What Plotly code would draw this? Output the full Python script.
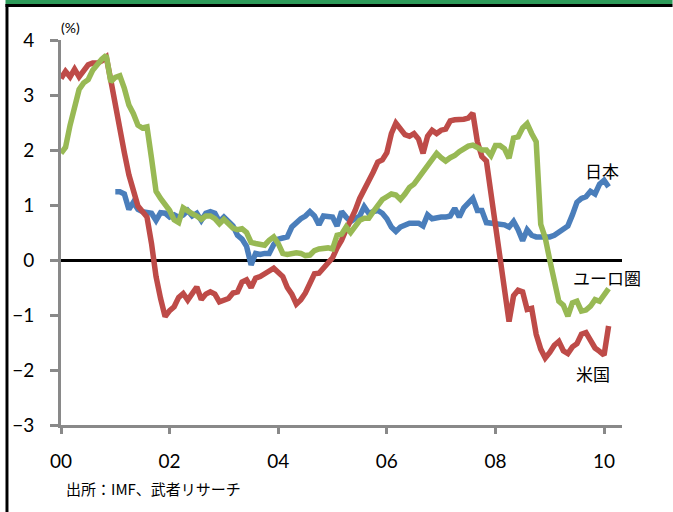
import plotly.graph_objects as go

# Monthly values, Jan 2000 onward (%)
us = [3.30, 3.43, 3.33, 3.47, 3.33, 3.45, 3.55, 3.58, 3.58, 3.62,
      3.69, 3.27, 2.80, 2.30, 1.95, 1.55, 1.28, 0.98, 0.88, 0.78,
      0.30, -0.30, -0.70, -1.03, -0.92, -0.85, -0.68, -0.61, -0.73, -0.60,
      -0.49, -0.72, -0.62, -0.58, -0.62, -0.76, -0.74, -0.70, -0.60, -0.58,
      -0.40, -0.36, -0.50, -0.33, -0.30, -0.26, -0.20, -0.15, -0.22, -0.30,
      -0.50, -0.62, -0.80, -0.72, -0.60, -0.42, -0.25, -0.24, -0.15, -0.07,
      0.04, 0.22, 0.36, 0.55, 0.72, 0.90, 1.12, 1.27, 1.45, 1.60,
      1.78, 1.82, 1.95, 2.30, 2.49, 2.38, 2.28, 2.25, 2.30, 2.20,
      1.94, 2.25, 2.36, 2.30, 2.36, 2.38, 2.53, 2.55, 2.55, 2.56,
      2.58, 2.67, 2.15, 1.88, 1.80, 1.20, 0.70, 0.10, -0.55, -1.12,
      -0.65, -0.55, -0.58, -0.90, -0.88, -1.35, -1.62, -1.78, -1.68, -1.55,
      -1.48, -1.65, -1.70, -1.58, -1.52, -1.35, -1.32, -1.45, -1.60, -1.66,
      -1.73, -1.20]

euro = [1.94, 2.05, 2.45, 2.75, 3.10, 3.22, 3.28, 3.45, 3.56, 3.65,
        3.72, 3.24, 3.32, 3.35, 3.12, 2.82, 2.66, 2.45, 2.40, 2.42,
        1.85, 1.25, 1.12, 1.00, 0.90, 0.73, 0.68, 0.95, 0.88, 0.84,
        0.80, 0.74, 0.80, 0.80, 0.75, 0.66, 0.74, 0.65, 0.58, 0.55,
        0.57, 0.50, 0.32, 0.30, 0.29, 0.27, 0.36, 0.42, 0.30, 0.12,
        0.10, 0.12, 0.13, 0.12, 0.08, 0.09, 0.17, 0.20, 0.22, 0.22,
        0.20, 0.45, 0.47, 0.60, 0.50, 0.60, 0.72, 0.76, 0.76, 0.88,
        1.00, 1.10, 1.15, 1.20, 1.18, 1.10, 1.20, 1.32, 1.38, 1.50,
        1.62, 1.72, 1.82, 1.94, 1.86, 1.80, 1.86, 1.90, 1.97, 2.02,
        2.07, 2.09, 2.05, 2.00, 2.00, 1.90, 2.08, 2.08, 2.02, 1.85,
        2.22, 2.24, 2.40, 2.48, 2.30, 2.15, 0.65, 0.40, 0.00, -0.42,
        -0.75, -0.82, -1.02, -0.78, -0.75, -0.93, -0.91, -0.84, -0.72, -0.75,
        -0.62, -0.52]

# Japan starts Jan 2001 (month index 12)
japan_start = 12
japan = [1.24, 1.24, 1.20, 0.92, 1.05, 0.92, 0.88, 0.87, 0.85, 0.72,
         0.86, 0.85, 0.78, 0.82, 0.78, 0.82, 0.90, 0.80, 0.85, 0.72,
         0.85, 0.88, 0.85, 0.70, 0.78, 0.70, 0.62, 0.45, 0.38, 0.25,
         -0.09, 0.12, 0.10, 0.12, 0.12, 0.28, 0.38, 0.40, 0.42, 0.60,
         0.68, 0.75, 0.80, 0.88, 0.80, 0.64, 0.80, 0.80, 0.78, 0.62,
         0.88, 0.78, 0.70, 0.75, 0.80, 0.97, 0.85, 0.88, 0.90, 0.85,
         0.75, 0.60, 0.52, 0.60, 0.64, 0.67, 0.67, 0.67, 0.62, 0.82,
         0.75, 0.77, 0.78, 0.78, 0.80, 0.94, 0.78, 0.95, 1.05, 1.12,
         0.90, 0.90, 0.68, 0.67, 0.67, 0.67, 0.64, 0.60, 0.70, 0.55,
         0.35, 0.55, 0.45, 0.42, 0.42, 0.42, 0.42, 0.45, 0.50, 0.55,
         0.62, 0.82, 1.05, 1.12, 1.15, 1.25, 1.20, 1.38, 1.45, 1.33]

tick_years = [0, 2, 4, 6, 8, 10]
tick_labels = ["00", "02", "04", "06", "08", "10"]
y_ticks = [4, 3, 2, 1, 0, -1, -2, -3]

x_us = [m / 12 for m in range(len(us))]
x_euro = [m / 12 for m in range(len(euro))]
x_jp = [(japan_start + m) / 12 for m in range(len(japan))]

BLUE = "#4A7EBB"
RED = "#BE4B48"
GREEN = "#98B954"
AXIS = "#898989"

fig = go.Figure()
fig.add_trace(go.Scatter(x=x_jp, y=japan, mode="lines", name="日本",
                         line=dict(color=BLUE, width=5.5)))
fig.add_trace(go.Scatter(x=x_us, y=us, mode="lines", name="米国",
                         line=dict(color=RED, width=5.5)))
fig.add_trace(go.Scatter(x=x_euro, y=euro, mode="lines", name="ユーロ圏",
                         line=dict(color=GREEN, width=5.5)))

W, H = 673, 512
L, R, T, B = 56, 51, 40, 87
pw = W - L - R
ph = H - T - B

def px(xp):
    return (xp - L) / pw

def py(yp):
    return 1 - (yp - T) / ph

cjk = "Noto Sans CJK JP"
num = "Lato"

def label(text, x, y, size, family=cjk, xanchor="center"):
    return dict(text=text, xref="paper", yref="paper", x=px(x), y=py(y),
                xanchor=xanchor, yanchor="middle", showarrow=False,
                font=dict(family=family, size=size, color="black"))

fig.update_layout(
    width=W, height=H,
    margin=dict(l=L, r=R, t=T, b=B),
    paper_bgcolor="white", plot_bgcolor="white",
    showlegend=False,
    xaxis=dict(range=[0, 10.33], tickvals=tick_years, ticktext=tick_labels,
               showgrid=False, zeroline=False, showline=True,
               linecolor=AXIS, linewidth=3, ticks="outside", ticklen=6,
               tickwidth=3, tickcolor=AXIS, ticklabelstandoff=11,
               tickfont=dict(family=num, size=19, color="black")),
    yaxis=dict(range=[-3, 4], tickvals=y_ticks, showgrid=False,
               zeroline=True, zerolinecolor="black", zerolinewidth=3,
               showline=True, linecolor=AXIS, linewidth=3,
               ticks="outside", ticklen=8, tickwidth=3, tickcolor=AXIS,
               ticklabelstandoff=12,
               tickfont=dict(family=num, size=19, color="black")),
    annotations=[
        label("(%)", 66, 27, 14, family=num),
        label("出所：IMF、武者リサーチ", 59, 488, 15, xanchor="left"),
        label("日本", 602, 170, 17),
        label("ユーロ圏", 607, 277, 17),
        label("米国", 593, 373, 17),
    ],
    shapes=[
        dict(type="rect", xref="paper", yref="paper", x0=px(0), x1=px(W),
             y0=py(0), y1=py(4), fillcolor="#2E9B5A", line=dict(width=0)),
        dict(type="rect", xref="paper", yref="paper", x0=px(0), x1=px(W),
             y0=py(4), y1=py(7), fillcolor="black", line=dict(width=0)),
        dict(type="rect", xref="paper", yref="paper", x0=px(0), x1=px(3),
             y0=py(4), y1=py(H), fillcolor="black", line=dict(width=0)),
    ],
)

fig.write_html("out.html")
